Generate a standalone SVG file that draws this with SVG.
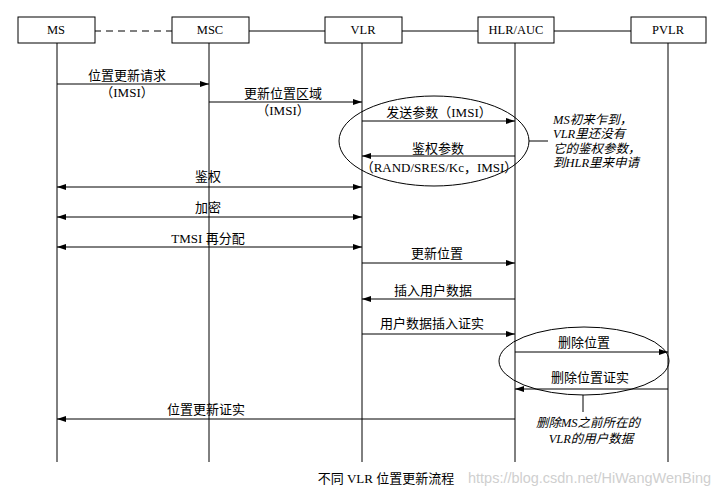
<svg xmlns="http://www.w3.org/2000/svg" width="722" height="491" viewBox="0 0 722 491">
<style>
  .box{fill:#fff;stroke:#000;stroke-width:1}
  .life{stroke:#000;stroke-width:1}
  .msg{stroke:#000;stroke-width:1;fill:none}
  .t{font-family:"Liberation Serif","Noto Sans CJK SC",serif;font-size:13px;fill:#000;text-anchor:middle;dominant-baseline:central}
  .h{font-size:12.5px}
  .note{font-family:"Liberation Serif","Noto Sans CJK SC",serif;font-size:12.5px;fill:#000;dominant-baseline:central;font-style:italic}
  .ell{fill:none;stroke:#000;stroke-width:1}
  .wm{font-family:"Liberation Sans",sans-serif;font-size:15px;fill:#cfcfcf}
</style>
<defs>
  <marker id="ah" viewBox="0 0 9 6" markerWidth="9" markerHeight="6" refX="9" refY="3" orient="auto-start-reverse" markerUnits="userSpaceOnUse">
    <path d="M0,0 L9,3 L0,6 z" fill="#000"/>
  </marker>
</defs>
<rect width="722" height="491" fill="#fff"/>

<g id="header-links">
  <line x1="94" y1="31" x2="172" y2="31" stroke="#000" stroke-width="1" stroke-dasharray="7,5"/>
  <line x1="249" y1="31" x2="325" y2="31" stroke="#000" stroke-width="1"/>
  <line x1="402" y1="31" x2="478" y2="31" stroke="#000" stroke-width="1"/>
  <line x1="554" y1="31" x2="631" y2="31" stroke="#000" stroke-width="1"/>
</g>

<g id="node-MS">
  <line class="life" x1="57" y1="43" x2="57" y2="462"/>
  <rect class="box" x="18" y="17" width="77" height="26"/>
  <text class="t h" x="56" y="30">MS</text>
</g>
<g id="node-MSC">
  <line class="life" x1="209" y1="43" x2="209" y2="462"/>
  <rect class="box" x="172" y="17" width="77" height="26"/>
  <text class="t h" x="210" y="30">MSC</text>
</g>
<g id="node-VLR">
  <line class="life" x1="362" y1="43" x2="362" y2="462"/>
  <rect class="box" x="325" y="17" width="77" height="26"/>
  <text class="t h" x="363" y="30">VLR</text>
</g>
<g id="node-HLR">
  <line class="life" x1="515" y1="43" x2="515" y2="462"/>
  <rect class="box" x="478" y="17" width="76" height="26"/>
  <text class="t h" x="516" y="30">HLR/AUC</text>
</g>
<g id="node-PVLR">
  <line class="life" x1="668" y1="43" x2="668" y2="462"/>
  <rect class="box" x="631" y="17" width="75" height="26"/>
  <text class="t h" x="668" y="30">PVLR</text>
</g>

<g id="connectors">
  <line class="msg" x1="57" y1="84" x2="209" y2="84" marker-end="url(#ah)"/>
  <line class="msg" x1="209" y1="102" x2="362" y2="102" marker-end="url(#ah)"/>
  <line class="msg" x1="362" y1="121" x2="515" y2="121" marker-end="url(#ah)"/>
  <line class="msg" x1="515" y1="156" x2="362" y2="156" marker-end="url(#ah)"/>
  <line class="msg" x1="57" y1="187" x2="362" y2="187" marker-start="url(#ah)" marker-end="url(#ah)"/>
  <line class="msg" x1="57" y1="217" x2="362" y2="217" marker-start="url(#ah)" marker-end="url(#ah)"/>
  <line class="msg" x1="57" y1="247" x2="362" y2="247" marker-start="url(#ah)" marker-end="url(#ah)"/>
  <line class="msg" x1="362" y1="263" x2="515" y2="263" marker-end="url(#ah)"/>
  <line class="msg" x1="515" y1="299" x2="362" y2="299" marker-end="url(#ah)"/>
  <line class="msg" x1="362" y1="334" x2="515" y2="334" marker-end="url(#ah)"/>
  <line class="msg" x1="515" y1="352" x2="668" y2="352" marker-end="url(#ah)"/>
  <line class="msg" x1="668" y1="389" x2="515" y2="389" marker-end="url(#ah)"/>
  <line class="msg" x1="515" y1="419" x2="57" y2="419" marker-end="url(#ah)"/>
</g>

<g id="labels">
  <text class="t" x="127" y="75">位置更新请求</text>
  <text class="t" x="127" y="92">（IMSI）</text>
  <text class="t" x="283" y="93">更新位置区域</text>
  <text class="t" x="283" y="110">（IMSI）</text>
  <text class="t" x="439" y="112">发送参数（IMSI）</text>
  <text class="t" x="438" y="148">鉴权参数</text>
  <text class="t" x="439" y="167" font-size="12.5">（RAND/SRES/Kc，IMSI）</text>
  <text class="t" x="208" y="176">鉴权</text>
  <text class="t" x="208" y="207">加密</text>
  <text class="t" x="208" y="238">TMSI 再分配</text>
  <text class="t" x="437" y="253">更新位置</text>
  <text class="t" x="433" y="290">插入用户数据</text>
  <text class="t" x="432" y="323">用户数据插入证实</text>
  <text class="t" x="584" y="342">删除位置</text>
  <text class="t" x="590" y="377">删除位置证实</text>
  <text class="t" x="206" y="409">位置更新证实</text>
</g>

<g id="group-auth">
  <ellipse class="ell" cx="434" cy="141" rx="95" ry="45"/>
  <line class="msg" x1="529" y1="141" x2="548" y2="141"/>
  <text class="note" x="553" y="120">MS初来乍到，</text>
  <text class="note" x="553" y="134">VLR里还没有</text>
  <text class="note" x="553" y="149">它的鉴权参数，</text>
  <text class="note" x="553" y="163">到HLR里来申请</text>
</g>

<g id="group-delete">
  <ellipse class="ell" cx="584" cy="361" rx="85" ry="34"/>
  <line class="msg" x1="583" y1="395" x2="583" y2="412"/>
  <text class="note" x="588" y="423" text-anchor="middle">删除MS之前所在的</text>
  <text class="note" x="591" y="439" text-anchor="middle">VLR的用户数据</text>
</g>

<text class="t" x="386" y="478" font-size="14">不同 VLR 位置更新流程</text>
<text class="wm" x="468" y="483" textLength="243" lengthAdjust="spacingAndGlyphs">https://blog.csdn.net/HiWangWenBing</text>
</svg>
